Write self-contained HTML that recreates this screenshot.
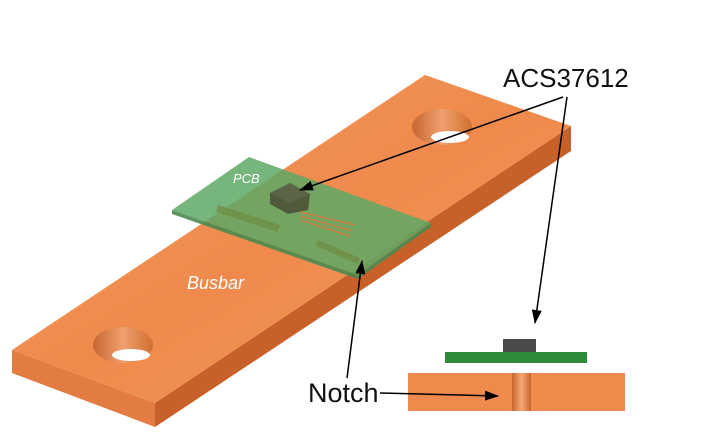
<!DOCTYPE html>
<html><head><style>html,body{margin:0;padding:0;background:#fff;width:718px;height:447px;overflow:hidden}</style></head>
<body>
<svg width="718" height="447" viewBox="0 0 718 447" xmlns="http://www.w3.org/2000/svg">
<defs>
<linearGradient id="top" x1="0" y1="0" x2="1" y2="1">
<stop offset="0" stop-color="#f49a62"/><stop offset="0.5" stop-color="#ef8a4c"/><stop offset="1" stop-color="#f29a60"/>
</linearGradient>
<linearGradient id="notch" x1="0" y1="0" x2="1" y2="0">
<stop offset="0" stop-color="#c8662e"/><stop offset="0.5" stop-color="#f6a874"/><stop offset="1" stop-color="#c8662e"/>
</linearGradient>
<linearGradient id="hole" x1="0" y1="0" x2="1" y2="0">
<stop offset="0" stop-color="#c8662e"/><stop offset="0.5" stop-color="#f0a070"/><stop offset="1" stop-color="#d0702e"/>
</linearGradient>
<marker id="ah" markerWidth="14" markerHeight="10" refX="13" refY="5" orient="auto" markerUnits="userSpaceOnUse">
<path d="M0,0 L14,5 L0,10 Z" fill="#000"/></marker>
</defs>
<!-- busbar faces -->
<polygon points="12,350 155,403 155,427 12,373" fill="#e27c42"/>
<polygon points="155,403 571,126 571,151 155,427" fill="#c8602a"/>
<polygon points="12,350 425,75 571,126 155,403" fill="url(#top)"/>
<!-- holes -->
<ellipse cx="442" cy="127" rx="30" ry="18" fill="url(#hole)"/>
<ellipse cx="450" cy="137" rx="19" ry="6" fill="#fff"/>
<ellipse cx="123" cy="345" rx="30" ry="18" fill="url(#hole)"/>
<ellipse cx="131" cy="355" rx="19" ry="6" fill="#fff"/>
<!-- PCB -->
<polygon points="172,210 249,157 431,223 358,275" fill="#5ea865" fill-opacity="0.85"/>
<polygon points="172,210 358,275 358,279 172,214" fill="#4a8a50" opacity="0.9"/>
<polygon points="358,275 431,223 431,227 358,279" fill="#4a8a50" opacity="0.9"/>
<polygon points="218,205 280,225 278,232 216,212" fill="#6f8a40" opacity="0.7"/>
<polygon points="318,240 360,258 358,264 316,246" fill="#6f8a40" opacity="0.7"/>
<path d="M300,212 L355,225 M300,216 L352,231 M300,220 L350,236" stroke="#d87a40" stroke-width="1.2" fill="none"/>
<polygon points="270,193 290,183 310,194 308,210 288,214 270,204" fill="#4e5a3a"/>
<polygon points="270,193 290,183 310,194 290,203" fill="#5c6448"/>
<text x="233" y="183" font-family="Liberation Sans, sans-serif" font-style="italic" font-size="13" fill="#fff">PCB</text>
<text x="187" y="289" font-family="Liberation Sans, sans-serif" font-style="italic" font-size="18" fill="#fff">Busbar</text>
<!-- section view -->
<rect x="503" y="339" width="33" height="14" fill="#4a4a4a"/>
<rect x="445" y="352" width="142" height="11" fill="#2e8b3a"/>
<rect x="408" y="373" width="217" height="38" fill="#ef8a4c"/>
<rect x="512" y="373" width="19" height="38" fill="url(#notch)"/>
<!-- labels -->
<text x="503" y="87" font-family="Liberation Sans, sans-serif" font-size="26" fill="#111">ACS37612</text>
<text x="308" y="402" font-family="Liberation Sans, sans-serif" font-size="27" fill="#111">Notch</text>
<!-- arrows -->
<line x1="563" y1="97" x2="300" y2="190" stroke="#000" stroke-width="1.5" marker-end="url(#ah)"/>
<line x1="567" y1="97" x2="535" y2="323" stroke="#000" stroke-width="1.5" marker-end="url(#ah)"/>
<line x1="347" y1="378" x2="362" y2="261" stroke="#000" stroke-width="1.5" marker-end="url(#ah)"/>
<line x1="380" y1="393" x2="498" y2="396" stroke="#000" stroke-width="1.5" marker-end="url(#ah)"/>
</svg>
</body></html>
